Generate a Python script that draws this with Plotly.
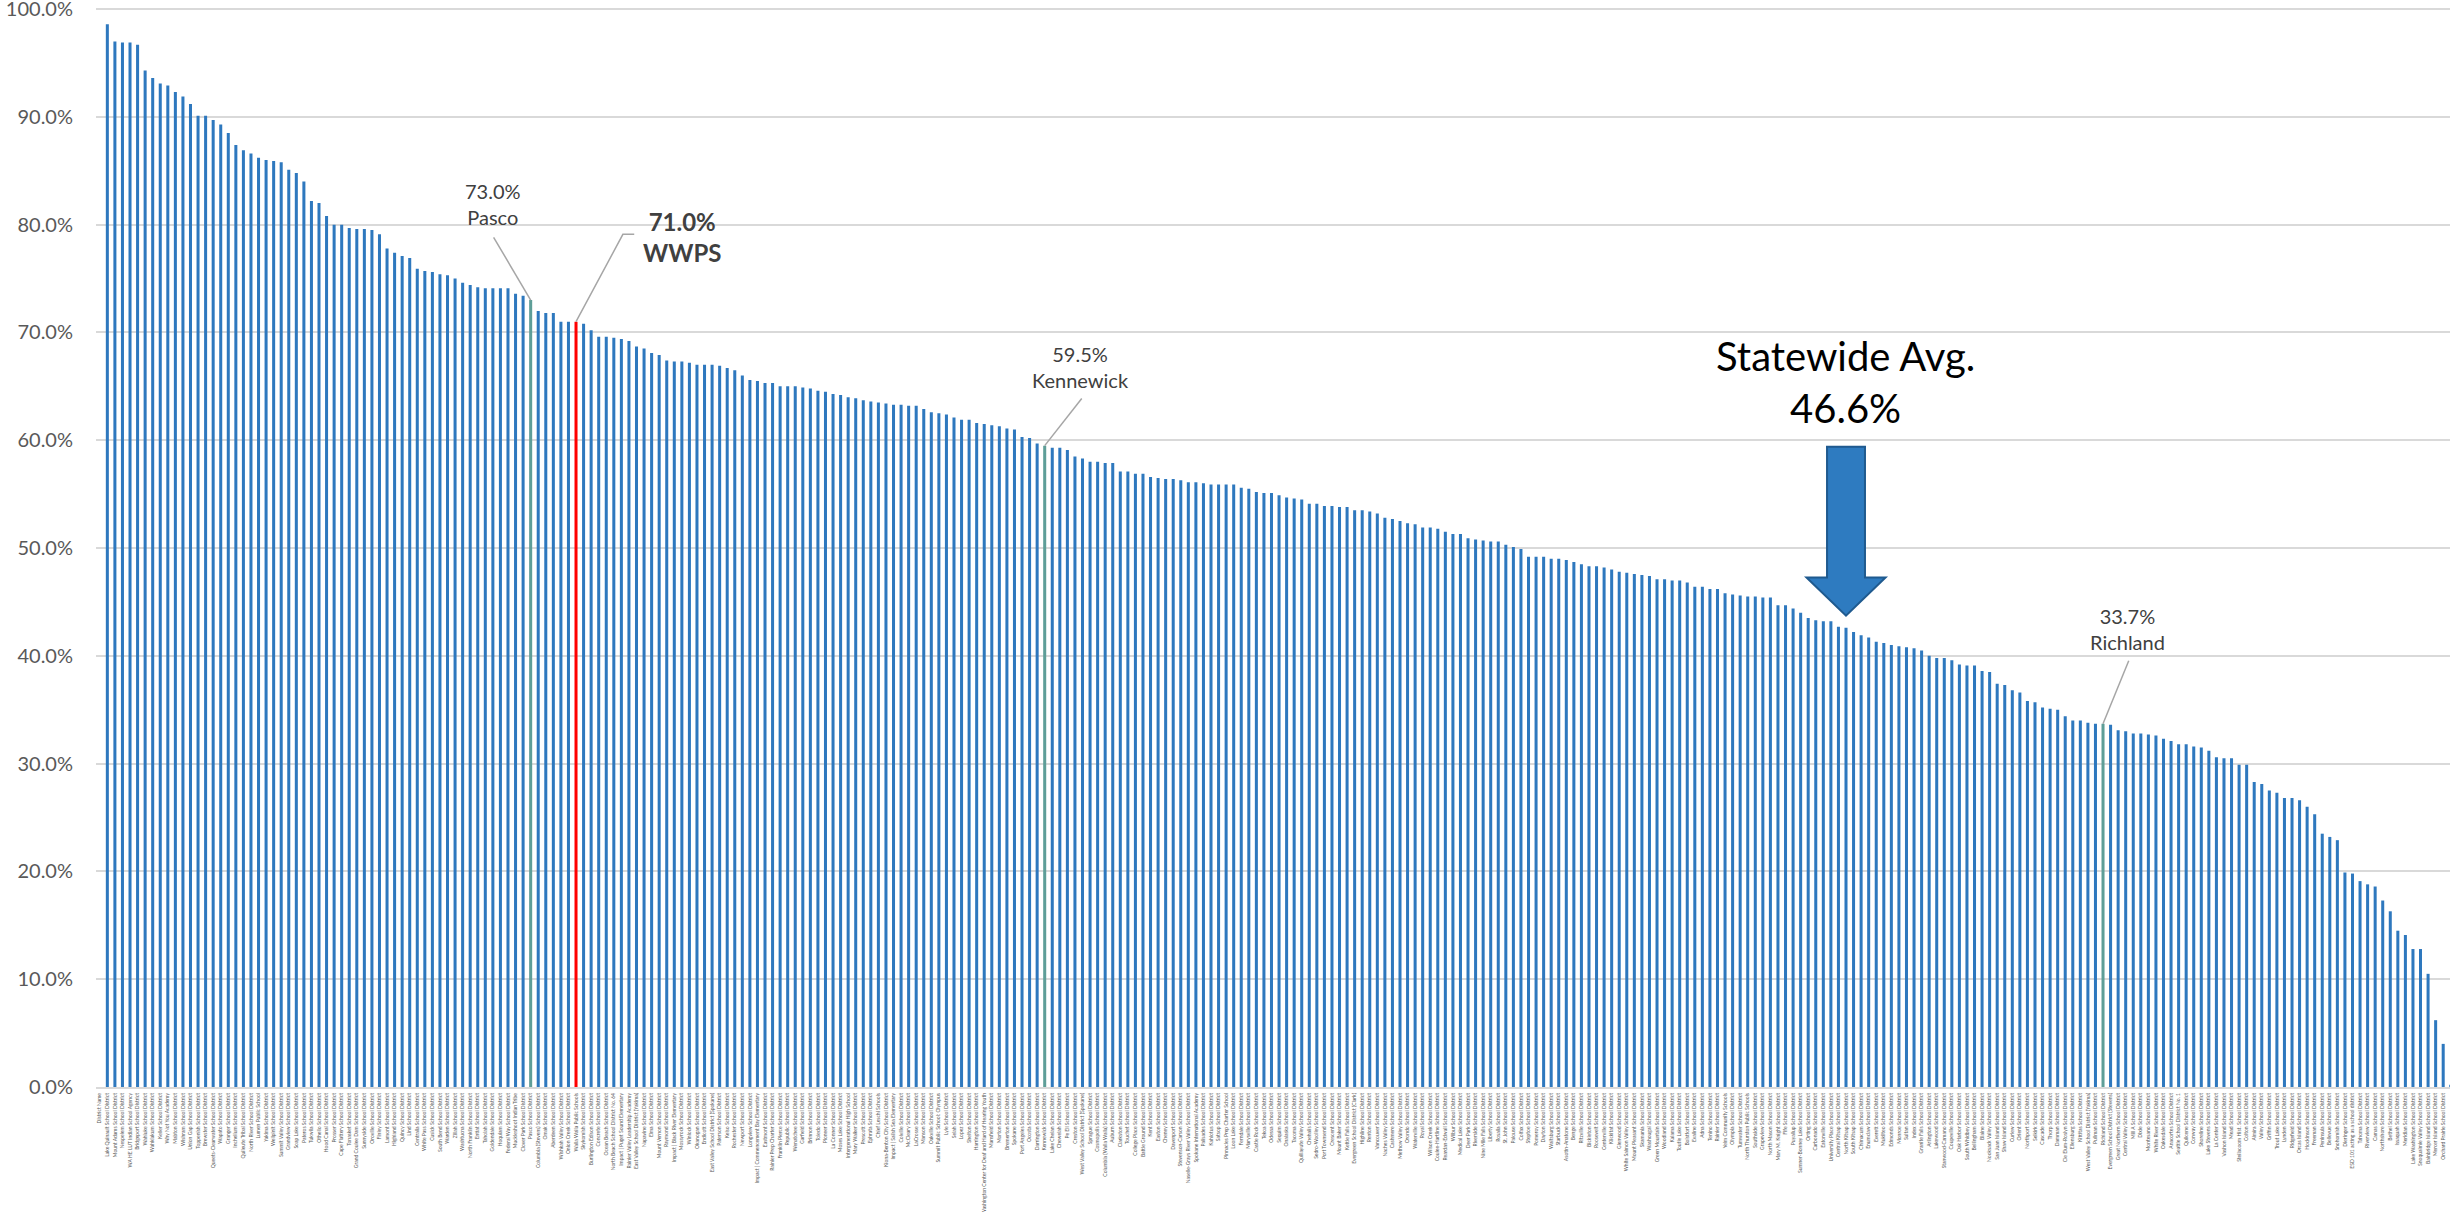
import plotly.graph_objects as go

# ---------------- data ----------------
districts_a = [
    "District Name", "Lake Quinault School District", "Mount Adams School District", "Nespelem School District",
    "WA HE LUT Indian School Agency", "Bridgeport School District", "Wahluke School District", "Wahkiakum School District",
    "Keller School District", "Why Not You Academy", "Mabton School District", "Wishram School District",
    "Union Gap School District", "Toppenish School District", "Brewster School District", "Queets-Clearwater School District",
    "Wapato School District", "Granger School District", "Inchelium School District", "Quileute Tribal School District",
    "North River School District", "Lumen Public School", "Yakima School District", "Wellpinit School District",
    "Summit Valley School District", "Grandview School District", "Soap Lake School District", "Pateros School District",
    "Tukwila School District", "Othello School District", "Hood Canal School District", "Prosser School District",
    "Cape Flattery School District", "Tonasket School District", "Grand Coulee Dam School District", "Sunnyside School District",
    "Oroville School District", "Finley School District", "Lamont School District", "Highland School District",
    "Quincy School District", "Lind School District", "Centralia School District", "White Pass School District",
    "Cusick School District", "South Bend School District", "Warden School District", "Zillah School District",
    "Washtucna School District", "North Franklin School District", "Entiat School District", "Taholah School District",
    "Goldendale School District", "Hoquiam School District", "Federal Way School District", "Muckleshoot Indian Tribe",
    "Clover Park School District", "Pasco School District", "Columbia (Stevens) School District", "Omak School District",
    "Aberdeen School District", "Wishkah Valley School District", "Onion Creek School District", "Walla Walla Public Schools",
    "Skykomish School District", "Burlington Edison School District", "Concrete School District", "Ocean Beach School District",
    "North Beach School District No. 64", "Impact | Puget Sound Elementary", "Rainier Valley Leadership Academy", "East Valley School District (Yakima)",
    "Napavine School District", "Elma School District", "Mount Vernon School District", "Raymond School District",
    "Impact | Black River Elementary", "Mossyrock School District", "Winlock School District", "Okanogan School District",
    "Endicott School District", "East Valley School District (Spokane)", "Paterson School District", "Kelso School District",
    "Rochester School District", "Newport School District", "Longview School District", "Impact | Commencement Bay Elementary",
    "Eastmont School District", "Rainier Prep Charter School District", "Franklin Pierce School District", "Republic School District",
    "Wenatchee School District", "Garfield School District", "Brinnon School District", "Toledo School District",
    "Pioneer School District", "La Conner School District", "Moses Lake School District", "Intergenerational High School",
    "Mary Walker School District", "Prescott School District", "Ephrata School District", "Chief Leschi Schools",
]
districts_b = [
    "Kiona-Benton City School District", "Impact | Salish Sea Elementary", "Colville School District", "McCleary School District",
    "LaCrosse School District", "Manson School District", "Oakville School District", "Summit Public School: Olympus",
    "Lyle School District", "Selah School District", "Lopez School District", "Shelton School District",
    "Harrington School District", "Washington Center for Deaf and Hard of Hearing Youth", "Mansfield School District", "Morton School District",
    "Bremerton School District", "Spokane School District", "Port Angeles School District", "Ocosta School District",
    "Darrington School District", "Kennewick School District", "Lake Chelan School District", "Chewelah School District",
    "Pe Ell School District", "Creston School District", "West Valley School District (Spokane)", "Sprague School District",
    "Cosmopolis School District", "Columbia (Walla Walla) School District", "Auburn School District", "Clarkston School District",
    "Touchet School District", "College Place School District", "Battle Ground School District", "Kent School District",
    "Easton School District", "Cheney School District", "Davenport School District", "Stevenson-Carson School District",
    "Naselle-Grays River Valley School District", "Spokane International Academy", "Palisades School District", "Kahlotus School District",
    "Satsop School District", "Pinnacles Prep Charter School", "Loon Lake School District", "Ferndale School District",
    "Marysville School District", "Castle Rock School District", "Tekoa School District", "Odessa School District",
    "Sequim School District", "Onalaska School District", "Tacoma School District", "Quillayute Valley School District",
    "Chehalis School District", "Sedro-Woolley School District", "Port Townsend School District", "Crescent School District",
    "Mount Baker School District", "Kettle Falls School District", "Evergreen School District (Clark)", "Highline School District",
    "Renton School District", "Vancouver School District", "Naches Valley School District", "Cashmere School District",
    "Methow Valley School District", "Orondo School District", "Waterville School District", "Royal School District",
    "Wilson Creek School District", "Coulee-Hartline School District", "Reardan-Edwall School District", "Wilbur School District",
    "Medical Lake School District", "Deer Park School District", "Riverside School District", "Nine Mile Falls School District",
    "Liberty School District", "Rosalia School District", "St. John School District", "Palouse School District",
    "Colfax School District", "Steptoe School District", "Pomeroy School District", "Dayton School District",
    "Waitsburg School District", "Starbuck School District", "Asotin-Anatone School District", "Benge School District",
    "Ritzville School District", "Bickleton School District", "Roosevelt School District", "Centerville School District",
    "Klickitat School District", "Glenwood School District", "White Salmon Valley School District", "Mount Pleasant School District",
    "Skamania School District", "Washougal School District", "Green Mountain School District", "Woodland School District",
]
districts_c = [
    "Kalama School District", "Toutle Lake School District", "Boistfort School District", "Evaline School District",
    "Adna School District", "Tenino School District", "Rainier School District", "Yelm Community Schools",
    "Olympia School District", "Tumwater School District", "North Thurston Public Schools", "Southside School District",
    "Grapeview School District", "North Mason School District", "Mary M. Knight School District", "Fife School District",
    "Puyallup School District", "Sumner-Bonney Lake School District", "Orting School District", "Carbonado School District",
    "Eatonville School District", "University Place School District", "Central Kitsap School District", "North Kitsap School District",
    "South Kitsap School District", "Chimacum School District", "Enumclaw School District", "Everett School District",
    "Mukilteo School District", "Edmonds School District", "Monroe School District", "Sultan School District",
    "Index School District", "Granite Falls School District", "Arlington School District", "Lakewood School District",
    "Stanwood-Camano School District", "Coupeville School District", "Oak Harbor School District", "South Whidbey School District",
    "Bellingham School District", "Blaine School District", "Nooksack Valley School District", "San Juan Island School District",
    "Shaw Island School District", "Curlew School District", "Orient School District", "Northport School District",
    "Selkirk School District", "Cascade School District", "Thorp School District", "Damman School District",
    "Cle Elum-Roslyn School District", "Ellensburg School District", "Kittitas School District", "West Valley School District (Yakima)",
    "Pullman School District", "Richland School District", "Evergreen School District (Stevens)", "Great Northern School District",
    "Central Valley School District", "Mill A School District", "Dixie School District", "Montesano School District",
    "White River School District", "Oakesdale School District", "Anacortes School District", "Seattle School District No. 1",
    "Quilcene School District", "Conway School District", "Shoreline School District", "Lake Stevens School District",
    "La Center School District", "Vashon Island School District", "Mead School District", "Steilacoom Hist. School District",
    "Colton School District", "Almira School District", "Valley School District", "Griffin School District",
    "Trout Lake School District", "Lynden School District", "Ridgefield School District", "Orcas Island School District",
    "Hockinson School District", "Freeman School District", "Peninsula School District", "Bellevue School District",
    "Snohomish School District", "Dieringer School District", "ESD 101 acting as a school district", "Tahoma School District",
    "Riverview School District", "Camas School District", "Northshore School District", "Bethel School District",
    "Issaquah School District", "Meridian School District", "Lake Washington School District", "Snoqualmie Valley School District",
    "Bainbridge Island School District", "Mercer Island School District", "Orchard Prairie School District", "Paschal Sherman Indian School",
]

# percent values (first category is the header row with no value)
pct_a = [None,
    98.6, 97.0, 96.9, 96.9, 96.7, 94.3, 93.6, 93.1, 92.9, 92.3, 91.9, 91.2, 90.1, 90.1, 89.7, 89.3, 88.5, 87.4, 86.9, 86.6,
    86.2, 86.0, 85.9, 85.8, 85.1, 84.8, 84.0, 82.2, 82.0, 80.8, 80.0, 80.0, 79.7, 79.6, 79.6, 79.5, 79.1, 77.8, 77.4, 77.1,
    76.9, 75.9, 75.7, 75.6, 75.4, 75.3, 75.0, 74.6, 74.4, 74.2, 74.1, 74.1, 74.1, 74.1, 73.6, 73.4, 73.0, 72.0, 71.8, 71.8,
    71.0, 71.0, 71.0, 70.8, 70.2, 69.6, 69.6, 69.5, 69.4, 69.2, 68.7, 68.5, 68.1, 67.9, 67.4, 67.3, 67.3, 67.2, 67.0, 67.0,
    67.0, 66.9, 66.7, 66.5, 66.0, 65.6, 65.5, 65.3, 65.3, 65.0, 65.0, 65.0, 64.9, 64.8, 64.6, 64.5, 64.3, 64.2, 64.0, 63.9,
    63.7, 63.6, 63.5,
]
pct_b = [
    63.4, 63.3, 63.3, 63.2, 63.2, 62.9, 62.6, 62.5, 62.4, 62.1, 61.9, 61.9, 61.6, 61.5, 61.4, 61.3, 61.1,
    61.0, 60.3, 60.2, 59.7, 59.5, 59.3, 59.3, 59.1, 58.5, 58.3, 58.0, 58.0, 57.9, 57.9, 57.1, 57.1, 56.9, 56.9, 56.6, 56.5,
    56.4, 56.4, 56.3, 56.1, 56.1, 56.0, 55.9, 55.9, 55.9, 55.9, 55.6, 55.5, 55.2, 55.1, 55.1, 54.9, 54.7, 54.6, 54.5, 54.1,
    54.1, 53.9, 53.9, 53.8, 53.8, 53.5, 53.5, 53.4, 53.2, 52.8, 52.7, 52.5, 52.3, 52.2, 51.9, 51.9, 51.8, 51.5, 51.3, 51.3,
    50.9, 50.8, 50.7, 50.6, 50.6, 50.3, 50.1, 49.9, 49.2, 49.2, 49.2, 49.0, 49.0, 48.9, 48.7, 48.5, 48.3, 48.3, 48.2, 48.0,
    47.8, 47.7, 47.6, 47.5, 47.4, 47.1, 47.1,
]
pct_c = [
    47.0, 47.0, 46.8, 46.4, 46.4, 46.2, 46.2, 45.8, 45.7, 45.6, 45.5, 45.5, 45.4, 45.4, 44.7, 44.7,
    44.4, 44.0, 43.5, 43.3, 43.2, 43.2, 42.7, 42.6, 42.2, 41.9, 41.7, 41.3, 41.2, 41.0, 40.9, 40.8, 40.7, 40.5, 40.0, 39.8,
    39.8, 39.6, 39.2, 39.1, 39.1, 38.6, 38.5, 37.4, 37.3, 36.8, 36.6, 35.8, 35.7, 35.2, 35.1, 35.0, 34.4, 34.0, 34.0, 33.8,
    33.7, 33.7, 33.6, 33.1, 33.0, 32.8, 32.8, 32.7, 32.6, 32.3, 32.1, 31.8, 31.8, 31.6, 31.5, 31.2, 30.6, 30.5, 30.5, 29.9,
    29.9, 28.3, 28.1, 27.5, 27.3, 26.8, 26.8, 26.6, 26.0, 25.3, 23.5, 23.2, 22.9, 19.9, 19.8, 19.1, 18.8, 18.6, 17.3, 16.3,
    14.5, 14.1, 12.8, 12.8, 10.5, 6.2, 4.0, 0.2,
]

districts = districts_a + districts_b + districts_c
poverty_pct = pct_a + pct_b + pct_c

# make category names unique (plotly merges duplicates)
seen = {}
for i, d in enumerate(districts):
    if d in seen:
        seen[d] += 1
        districts[i] = d + " " * seen[d]
    else:
        seen[d] = 0

n = min(len(districts), len(poverty_pct))
districts = districts[:n]
poverty_pct = poverty_pct[:n]
poverty_frac = [None if v is None else v / 100.0 for v in poverty_pct]

statewide_avg = 46.6
wwps_name = "Walla Walla Public Schools"
neighbor_names = ["Pasco School District", "Kennewick School District", "Richland School District"]
neighbor_short = ["Pasco", "Kennewick", "Richland"]

# ---------------- styles ----------------
BAR = "#2E78BE"
TEAL = "#5E9E98"
RED = "#FF0000"
FONT = "Lato, 'Open Sans', sans-serif"
TXT = "#404040"

colors = []
for d in districts:
    if d == wwps_name:
        colors.append(RED)
    elif d in neighbor_names:
        colors.append(TEAL)
    else:
        colors.append(BAR)

fig = go.Figure(go.Bar(
    x=districts, y=poverty_frac, marker=dict(color=colors, line=dict(width=0)),
    hovertemplate="%{x}: %{y:.1%}<extra></extra>",
))

idx = {d: i for i, d in enumerate(districts)}
val = {d: poverty_frac[i] for i, d in enumerate(districts)}

shapes = []
annotations = []

# neighbor callouts: (text dx in categories, text center y, leader start y)
callout_pos = {
    "Pasco School District": (-5.0, 0.8194, 0.7883),
    "Kennewick School District": (4.8, 0.668, 0.6388),
    "Richland School District": (3.3, 0.4253, 0.3955),
}
for name, short in zip(neighbor_names, neighbor_short):
    i = idx[name]
    dx, ty, ly = callout_pos[name]
    v = val[name]
    annotations.append(dict(
        x=i + dx, y=ty, xref="x", yref="y", showarrow=False,
        text=f"{v*100:.1f}%<br>{short}", align="center",
        font=dict(family=FONT, size=20, color=TXT), yanchor="middle",
    ))
    shapes.append(dict(type="line", xref="x", yref="y", x0=i + dx + 0.1, y0=ly, x1=i, y1=v,
                       line=dict(color="#A6A6A6", width=1.5)))

# WWPS callout
iw = idx[wwps_name]
vw = val[wwps_name]
annotations.append(dict(
    x=iw + 14.0, y=0.789, xref="x", yref="y", showarrow=False,
    text=f"<b>{vw*100:.1f}%<br>WWPS</b>", align="center",
    font=dict(family=FONT, size=24, color=TXT), yanchor="middle",
))
shapes.append(dict(type="path", xref="x", yref="y",
                   path=f"M {iw+7.7},0.791 L {iw+6.2},0.791 L {iw},{vw}",
                   line=dict(color="#A6A6A6", width=1.5)))

# statewide average label and arrow
arrow_i = 231
annotations.append(dict(
    x=arrow_i - 0.1, y=0.654, xref="x", yref="y", showarrow=False,
    text=f"Statewide Avg.<br>{statewide_avg:.1f}%", align="center",
    font=dict(family=FONT, size=40, color="#000000"), yanchor="middle",
))
sw, hw = 2.51, 5.23
top, neck, tip = 0.594, 0.4726, 0.4373
shapes.append(dict(
    type="path", xref="x", yref="y",
    path=(f"M {arrow_i-sw},{top} L {arrow_i+sw},{top} L {arrow_i+sw},{neck} L {arrow_i+hw},{neck} "
          f"L {arrow_i},{tip} L {arrow_i-hw},{neck} L {arrow_i-sw},{neck} Z"),
    fillcolor="#2E7BC0", line=dict(color="#1F5A8F", width=2),
))

fig.update_layout(
    template="none",
    width=2450, height=1212,
    margin=dict(l=96, r=0, t=8, b=125, pad=0),
    paper_bgcolor="white", plot_bgcolor="white",
    bargap=0.6,
    showlegend=False,
    font=dict(family=FONT, color="#595959"),
    shapes=shapes, annotations=annotations,
    xaxis=dict(
        type="category", tickmode="linear", tick0=0, dtick=1, tickangle=-90,
        tickfont=dict(family=FONT, size=5.0, color="#595959"),
        range=[-0.5, 310.9], showgrid=False, zeroline=False,
        showline=True, linecolor="#D9D9D9", linewidth=2, ticks="", automargin=False,
        ticklabelstandoff=2,
    ),
    yaxis=dict(
        range=[0, 1.001], tickmode="array",
        tickvals=[k / 10 for k in range(11)],
        ticktext=[f"{k*10:.1f}%" for k in range(11)],
        tickfont=dict(family=FONT, size=20, color="#595959"),
        showgrid=True, gridcolor="#D9D9D9", gridwidth=2, zeroline=False,
        showline=False, ticks="", ticklabelstandoff=22, automargin=False,
        ticklabeloverflow="allow",
    ),
)

fig.write_html(
    "out.html",
    config={"displayModeBar": False},
    post_script="document.body.style.margin='0';document.body.style.padding='0';document.body.style.overflow='hidden';",
)
